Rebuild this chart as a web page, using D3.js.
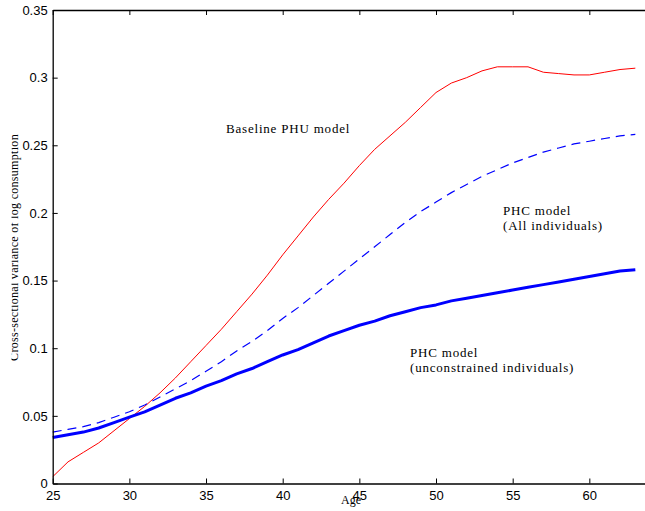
<!DOCTYPE html>
<html lang="en">
<head>
    <meta charset="UTF-8">
    <script src="https://cdn.jsdelivr.net/npm/d3@7"></script>
    <style>
        body { margin: 0; background: #fff; }
        .tick text { font-family: "Liberation Sans", Arial, sans-serif; font-size: 13px; fill: #000; }
        .note { font-family: "Liberation Serif", "Times New Roman", serif; font-size: 13px; letter-spacing: 0.8px; fill: #000; }
    </style>
</head>
<body>
<div id="fig"></div>
<script>
    const width = 645, height = 511;

    // age on the x axis
    const ages = [25,26,27,28,29,30,31,32,33,34,35,36,37,38,39,40,41,42,43,44,
        45,46,47,48,49,50,51,52,53,54,55,56,57,58,59,60,61,62,63];
    // Baseline PHU model (thin red)
    const baselinePHU = [0.005,0.016,0.023,0.030,0.039,0.048,0.057,0.067,0.078,0.090,
        0.102,0.114,0.127,0.140,0.154,0.169,0.183,0.197,0.210,0.222,
        0.235,0.247,0.257,0.267,0.278,0.289,0.296,0.300,0.305,0.308,
        0.308,0.308,0.304,0.303,0.302,0.302,0.304,0.306,0.307];
    // PHC model, all individuals (dashed blue)
    const phcAll = [0.038,0.040,0.042,0.045,0.049,0.053,0.058,0.064,0.070,0.076,
        0.083,0.090,0.098,0.105,0.113,0.122,0.130,0.139,0.148,0.157,
        0.166,0.175,0.184,0.193,0.201,0.208,0.215,0.221,0.227,0.232,
        0.237,0.241,0.245,0.248,0.251,0.253,0.255,0.257,0.258];
    // PHC model, unconstrained individuals (thick blue)
    const phcUnconstrained = [0.034,0.036,0.038,0.041,0.045,0.049,0.053,0.058,0.063,0.067,
        0.072,0.076,0.081,0.085,0.090,0.095,0.099,0.104,0.109,0.113,
        0.117,0.120,0.124,0.127,0.130,0.132,0.135,0.137,0.139,0.141,
        0.143,0.145,0.147,0.149,0.151,0.153,0.155,0.157,0.158];

    const xTicks = [25,30,35,40,45,50,55,60];
    const yTicks = [0,0.05,0.1,0.15,0.2,0.25,0.3,0.35];
    const yTickLabels = ["0","0.05","0.1","0.15","0.2","0.25","0.3","0.35"];

    const svg = d3.select("#fig")
        .append("svg")
        .attr("width", width)
        .attr("height", height);

    // the right edge of the axes box runs off the page
    const x = d3.scaleLinear().domain([25, 65]).range([52.7, 666]);
    const y = d3.scaleLinear().domain([0, 0.35]).range([483.5, 10]);

    const line = d3.line()
        .x((d, i) => x(ages[i]))
        .y(d => y(d));

    svg.append("path")
        .datum(baselinePHU)
        .attr("d", line)
        .attr("fill", "none")
        .attr("stroke", "#ff0000")
        .attr("stroke-width", 1);

    svg.append("path")
        .datum(phcAll)
        .attr("d", line)
        .attr("fill", "none")
        .attr("stroke", "#0000ff")
        .attr("stroke-width", 1.2)
        .attr("stroke-dasharray", "9,6");

    svg.append("path")
        .datum(phcUnconstrained)
        .attr("d", line)
        .attr("fill", "none")
        .attr("stroke", "#0000ff")
        .attr("stroke-width", 3)
        .attr("stroke-linejoin", "round");

    // axes, ticks pointing inward like matlab
    const bottomAxis = svg.append("g")
        .attr("transform", `translate(0,${y(0)})`)
        .call(d3.axisBottom(x).tickValues(xTicks).tickSizeInner(-5).tickSizeOuter(0).tickPadding(7).tickFormat(d3.format("d")));
    const topAxis = svg.append("g")
        .attr("transform", `translate(0,${y(0.35)})`)
        .call(d3.axisTop(x).tickValues(xTicks).tickSizeInner(-5).tickSizeOuter(0).tickFormat(""));
    const leftAxis = svg.append("g")
        .attr("transform", `translate(${x(25)},0)`)
        .call(d3.axisLeft(y).tickValues(yTicks).tickSizeInner(-5).tickSizeOuter(0).tickPadding(5)
            .tickFormat((d, i) => yTickLabels[i]));

    [bottomAxis, topAxis, leftAxis].forEach(g => {
        g.select(".domain").attr("stroke", "#000").attr("stroke-width", 1.3);
        g.selectAll(".tick line").attr("stroke", "#000").attr("stroke-width", 1);
    });

    // annotations
    svg.append("text").attr("class", "note").attr("x", 226).attr("y", 133).text("Baseline PHU model");
    svg.append("text").attr("class", "note").attr("x", 503).attr("y", 215).text("PHC model");
    svg.append("text").attr("class", "note").attr("x", 503).attr("y", 230).text("(All individuals)");
    svg.append("text").attr("class", "note").attr("x", 410).attr("y", 357).text("PHC model");
    svg.append("text").attr("class", "note").attr("x", 410).attr("y", 372).text("(unconstrained individuals)");

    svg.append("text")
        .attr("x", 351).attr("y", 504)
        .attr("text-anchor", "middle")
        .style("font-family", "Liberation Serif, serif")
        .style("font-size", "12px")
        .text("Age");

    // y label is cut off at the left edge in the original
    svg.append("clipPath").attr("id", "ylabclip")
        .append("rect").attr("x", 11.5).attr("y", 0).attr("width", 40).attr("height", height);
    svg.append("g")
        .attr("clip-path", "url(#ylabclip)")
        .append("text")
        .attr("transform", "translate(17.5,247.5) rotate(-90)")
        .attr("text-anchor", "middle")
        .style("font-family", "Liberation Serif, serif")
        .style("font-size", "12px")
        .style("letter-spacing", "0.3px")
        .text("Cross-sectional variance of log consumption");
</script>
</body>
</html>
